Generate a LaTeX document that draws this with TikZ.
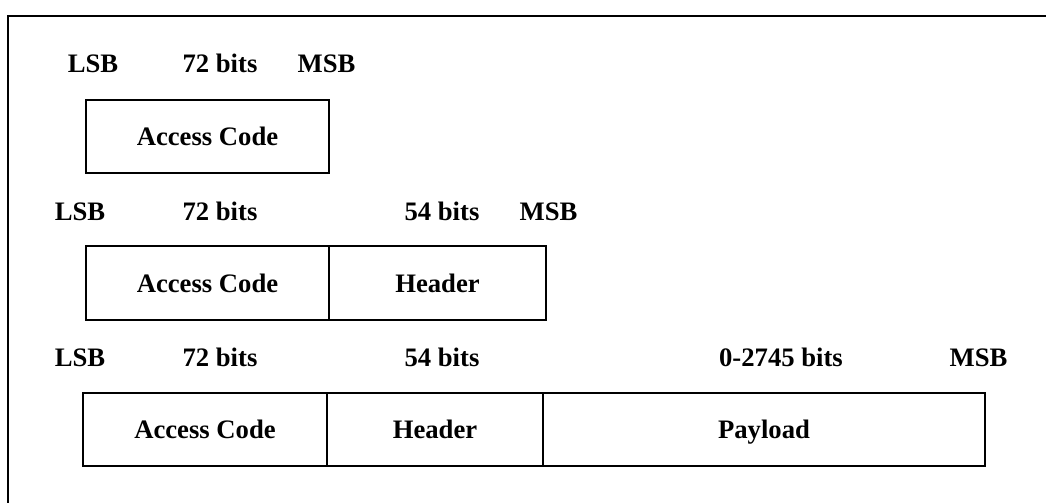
\documentclass[tikz,border=0pt]{standalone}
\usepackage{fontspec}
\setmainfont{Liberation Serif}
\begin{document}
\begin{tikzpicture}[x=0.75pt,y=-0.75pt,
  lbl/.style={anchor=base,inner sep=0pt,font=\fontsize{20}{24}\selectfont\bfseries},
  fieldbox/.style={draw,line width=1.5pt,inner sep=0pt,text height=13.6pt,text depth=0pt,font=\fontsize{20}{24}\selectfont\bfseries}]
\useasboundingbox (0,0) rectangle (1046,503);
% frame (top and left edges)
\coordinate (ftr) at (1046,16);
\coordinate (ftl) at (8,16);
\coordinate (fbl) at (8,503);
\draw[line width=1.5pt] (ftr) -- (ftl) -- (fbl);
% row 1
\node[lbl] (l1a) at (93,73) {LSB};
\node[lbl] (l1b) at (220,73) {72 bits};
\node[lbl] (l1c) at (326.5,73) {MSB};
\node[fieldbox,minimum width=182.25pt,minimum height=54.75pt] (ac1) at (207.5,136.5) {Access Code};
% row 2
\node[lbl] (l2a) at (80,220) {LSB};
\node[lbl] (l2b) at (220,220) {72 bits};
\node[lbl] (l2c) at (442,220) {54 bits};
\node[lbl] (l2d) at (548.5,220) {MSB};
\node[fieldbox,minimum width=182.25pt,minimum height=55.5pt] (ac2) at (207.5,283) {Access Code};
\node[fieldbox,minimum width=162.75pt,minimum height=55.5pt] (hd2) at (437.5,283) {Header};
% row 3
\node[lbl] (l3a) at (80,366) {LSB};
\node[lbl] (l3b) at (220,366) {72 bits};
\node[lbl] (l3c) at (442,366) {54 bits};
\node[lbl] (l3d) at (781,366) {0-2745 bits};
\node[lbl] (l3e) at (978.5,366) {MSB};
\node[fieldbox,minimum width=183pt,minimum height=54.75pt] (ac3) at (205,429.5) {Access Code};
\node[fieldbox,minimum width=162pt,minimum height=54.75pt] (hd3) at (435,429.5) {Header};
\node[fieldbox,minimum width=331.5pt,minimum height=54.75pt] (pl3) at (764,429.5) {Payload};
\end{tikzpicture}
\end{document}
